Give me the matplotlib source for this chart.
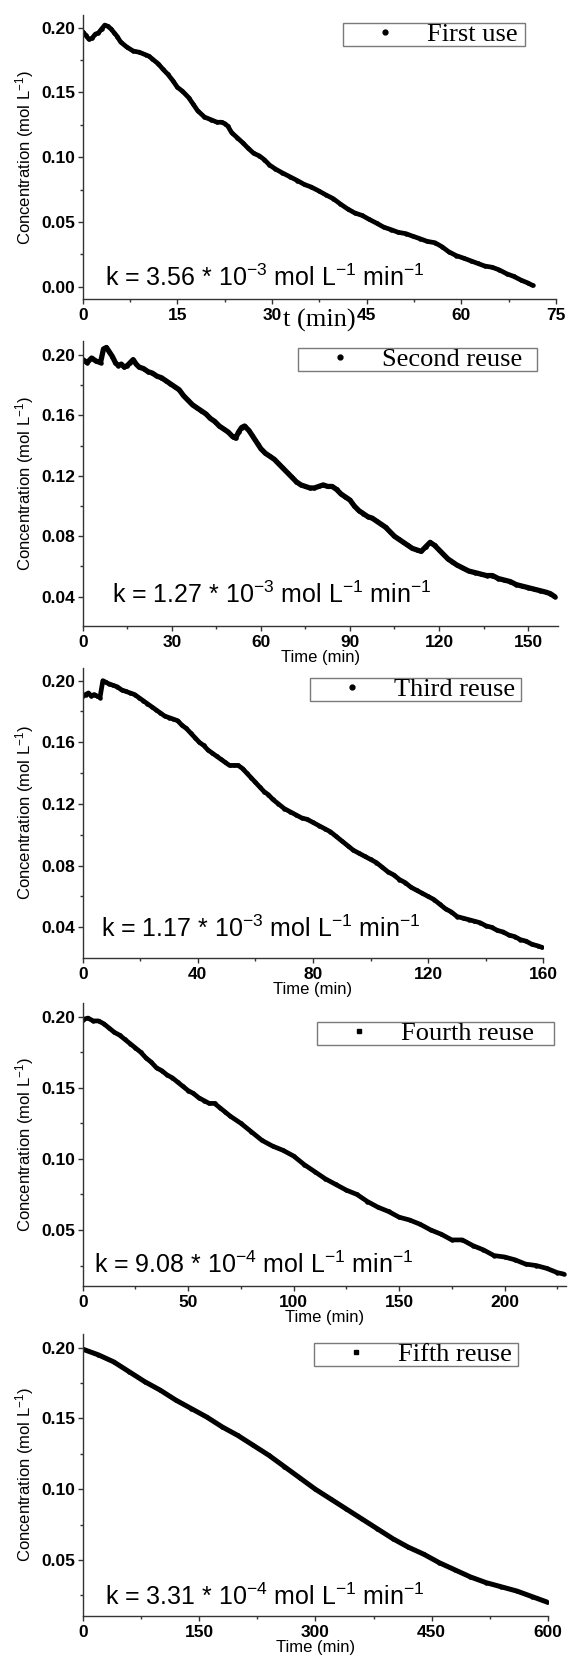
import matplotlib
matplotlib.use("Agg")
import matplotlib.pyplot as plt
from matplotlib.lines import Line2D
from matplotlib.ticker import MultipleLocator, FormatStrFormatter

plt.rcParams["font.family"] = ["Liberation Sans", "DejaVu Sans"]
plt.rcParams["font.weight"] = "bold"
plt.rcParams["mathtext.fontset"] = "custom"
plt.rcParams["mathtext.rm"] = "Liberation Sans:weight=normal"
plt.rcParams["mathtext.default"] = "rm"

# ---- datos ----
t1 = [0, 0.5, 1, 1.5, 2, 2.5, 3, 3.5, 4, 4.5, 5, 5.5, 6, 7, 8, 9, 10, 10.5, 11, 12,
      12.7, 13.5, 14.3, 15, 15.8, 16.8, 17.5, 18.2, 19.3, 20.3, 21.3, 22, 22.5, 23,
      23.6, 24.5, 25.4, 26.2, 27.1, 28, 28.8, 29.6, 30.5, 31.6, 32.8, 34, 35.1, 36.2,
      37.4, 38.5, 39.7, 40.8, 42, 43.1, 44.3, 45.4, 46.6, 47.7, 48.9, 50, 51.2, 52.3,
      53.5, 54.6, 55.8, 56.9, 58, 59.2, 60.4, 61.5, 62.6, 63.7, 64.9, 66, 67.2, 68.3,
      69.5, 70.5, 71.3]
c1 = [0.197, 0.194, 0.191, 0.192, 0.195, 0.196, 0.199, 0.202, 0.201, 0.199, 0.196,
      0.193, 0.189, 0.185, 0.182, 0.181, 0.179, 0.178, 0.176, 0.172, 0.168, 0.164,
      0.159, 0.154, 0.151, 0.146, 0.141, 0.136, 0.131, 0.129, 0.127, 0.127, 0.126,
      0.124, 0.119, 0.115, 0.111, 0.107, 0.103, 0.101, 0.098, 0.094, 0.091, 0.088,
      0.085, 0.082, 0.079, 0.077, 0.074, 0.071, 0.068, 0.064, 0.060, 0.057, 0.055,
      0.052, 0.049, 0.046, 0.044, 0.042, 0.041, 0.039, 0.037, 0.035, 0.034, 0.031,
      0.027, 0.024, 0.022, 0.020, 0.018, 0.016, 0.015, 0.013, 0.010, 0.008, 0.005,
      0.003, 0.001]

t2 = [0, 1.5, 3, 4.5, 6, 7, 8, 9, 10, 11, 12, 13, 14, 15, 16, 17, 18, 19, 20.5, 22,
      23.5, 25, 26.5, 28, 29.5, 31, 32.5, 34, 35.5, 37, 38.5, 40, 41.5, 43, 44.5, 46,
      47.5, 49, 50.5, 51.5, 52.5, 53.5, 54.5, 56, 57, 58, 59, 60, 61.5, 63, 64.5, 66,
      67.5, 69, 70.5, 72, 73.5, 75, 76.5, 78, 79.5, 81, 82.5, 84, 85.5, 87, 88.5, 90,
      91.5, 93, 94.5, 96, 97.5, 99, 100.5, 102, 103.5, 105, 106.5, 108, 109.5, 111,
      112.5, 114, 115.5, 117, 118.5, 120, 121.5, 123, 124.5, 126, 128, 130, 132, 134,
      136, 138, 140, 142, 144, 146, 148, 150, 152, 154, 156, 157.5, 159]
c2 = [0.197, 0.195, 0.198, 0.196, 0.195, 0.204, 0.205, 0.202, 0.199, 0.195, 0.193,
      0.194, 0.192, 0.193, 0.195, 0.197, 0.194, 0.192, 0.191, 0.189, 0.188, 0.186,
      0.185, 0.183, 0.181, 0.179, 0.177, 0.173, 0.170, 0.167, 0.165, 0.163, 0.161,
      0.158, 0.156, 0.153, 0.151, 0.149, 0.146, 0.145, 0.149, 0.152, 0.153, 0.150,
      0.147, 0.144, 0.141, 0.138, 0.135, 0.133, 0.131, 0.128, 0.125, 0.122, 0.119,
      0.116, 0.114, 0.113, 0.112, 0.112, 0.113, 0.114, 0.113, 0.113, 0.111, 0.108,
      0.106, 0.104, 0.100, 0.097, 0.095, 0.093, 0.092, 0.090, 0.088, 0.086, 0.083,
      0.080, 0.078, 0.076, 0.074, 0.072, 0.071, 0.070, 0.073, 0.076, 0.074, 0.071,
      0.068, 0.065, 0.063, 0.061, 0.059, 0.057, 0.056, 0.055, 0.054, 0.054, 0.052,
      0.051, 0.050, 0.048, 0.047, 0.046, 0.045, 0.044, 0.043, 0.042, 0.040]

t3 = [0, 1, 2, 3, 4, 5, 6, 7, 8, 9, 10.5, 12, 13.5, 15, 16.5, 18, 19.5, 21, 22.5, 24,
      25.5, 27, 28.5, 30, 31.5, 33, 34.5, 36, 37.5, 39, 40.5, 42, 43.5, 45, 46.5, 48,
      49.5, 51, 52.5, 54, 55.5, 57, 58.5, 60, 61.5, 63, 64.5, 66, 68, 70, 72, 74, 76,
      78, 80, 82, 84, 86, 88, 90, 92, 94, 96, 98, 100, 102, 104, 106, 108, 110, 112,
      114, 116, 118, 120, 122, 124, 126, 128, 130, 132, 134, 136, 138, 140, 142, 144,
      146, 148, 150, 152, 154, 156, 158, 159.5]
c3 = [0.190, 0.191, 0.192, 0.190, 0.191, 0.190, 0.189, 0.200, 0.199, 0.198, 0.197,
      0.196, 0.194, 0.193, 0.192, 0.191, 0.189, 0.187, 0.185, 0.183, 0.181, 0.179,
      0.177, 0.176, 0.175, 0.174, 0.171, 0.169, 0.166, 0.163, 0.160, 0.158, 0.155,
      0.153, 0.151, 0.149, 0.147, 0.145, 0.145, 0.145, 0.143, 0.140, 0.137, 0.134,
      0.131, 0.128, 0.126, 0.123, 0.120, 0.117, 0.115, 0.113, 0.111, 0.110, 0.108,
      0.106, 0.104, 0.102, 0.099, 0.096, 0.093, 0.090, 0.088, 0.086, 0.084, 0.082,
      0.079, 0.076, 0.074, 0.071, 0.069, 0.066, 0.064, 0.062, 0.060, 0.058, 0.055,
      0.052, 0.050, 0.047, 0.046, 0.045, 0.044, 0.043, 0.041, 0.040, 0.038, 0.037,
      0.035, 0.034, 0.032, 0.031, 0.029, 0.028, 0.027]

t4 = [0, 2.5, 5, 7.5, 10, 12.5, 15, 17.5, 20, 22.5, 25, 27.5, 30, 32.5, 35, 37.5, 40,
      42.5, 45, 47.5, 50, 52.5, 55, 57.5, 60, 62.5, 65, 67.5, 70, 75, 80, 85, 90, 95,
      100, 105, 110, 115, 120, 125, 130, 135, 140, 145, 150, 155, 160, 165, 170, 175,
      180, 185, 190, 195, 200, 205, 210, 215, 220, 225, 228]
c4 = [0.198, 0.199, 0.197, 0.197, 0.195, 0.192, 0.189, 0.187, 0.184, 0.181, 0.178,
      0.175, 0.171, 0.168, 0.164, 0.162, 0.159, 0.157, 0.154, 0.151, 0.148, 0.146,
      0.143, 0.141, 0.139, 0.139, 0.136, 0.133, 0.130, 0.125, 0.119, 0.113, 0.109,
      0.106, 0.102, 0.096, 0.091, 0.086, 0.082, 0.078, 0.075, 0.070, 0.066, 0.063,
      0.059, 0.057, 0.054, 0.050, 0.047, 0.043, 0.043, 0.039, 0.036, 0.032, 0.031,
      0.029, 0.026, 0.025, 0.023, 0.020, 0.019]

t5 = [0, 20, 40, 60, 80, 100, 120, 140, 160, 180, 200, 220, 240, 260, 280, 300, 320,
      340, 360, 380, 400, 420, 440, 460, 480, 500, 520, 540, 560, 580, 600]
c5 = [0.199, 0.195, 0.190, 0.183, 0.176, 0.170, 0.163, 0.157, 0.151, 0.144, 0.138,
      0.131, 0.124, 0.116, 0.108, 0.100, 0.093, 0.086, 0.079, 0.072, 0.065, 0.059,
      0.054, 0.048, 0.043, 0.038, 0.034, 0.031, 0.028, 0.024, 0.020]

nombres = ["First use", "Second reuse", "Third reuse", "Fourth reuse", "Fifth reuse"]
textos_k = [r"k = 3.56 * 10$^{-3}$ mol L$^{-1}$ min$^{-1}$",
            r"k = 1.27 * 10$^{-3}$ mol L$^{-1}$ min$^{-1}$",
            r"k = 1.17 * 10$^{-3}$ mol L$^{-1}$ min$^{-1}$",
            r"k = 9.08 * 10$^{-4}$ mol L$^{-1}$ min$^{-1}$",
            r"k = 3.31 * 10$^{-4}$ mol L$^{-1}$ min$^{-1}$"]

# ---- layout (pixeles de la imagen) ----
W, H = 568, 1657
ejes_px = [(82.7, 556.0, 15.0, 299.3), (82.7, 557.8, 340.7, 626.0),
           (82.7, 543.4, 668.3, 957.7), (82.7, 565.7, 1003.3, 1286.0),
           (82.7, 548.0, 1334.0, 1616.0)]
xlims = [(0, 75), (0, 160), (0, 160), (0, 229), (0, 600)]
ylims = [(-0.0097, 0.2098), (0.0206, 0.2095), (0.0203, 0.208), (0.0106, 0.2094), (0.0104, 0.2097)]
xpasos = [(15, 7.5), (30, 15), (40, 20), (50, 25), (150, 75)]
ypasos = [(0.05, 0.025), (0.04, 0.02), (0.04, 0.02), (0.05, 0.025), (0.05, 0.025)]
leyenda_px = [(343, 22.7, 524.5, 51), (298, 348, 537, 376), (310, 678, 521, 707),
              (317, 1022, 554, 1050), (314, 1343, 518, 1371)]
marcas = ["o", "o", "o", "s", "s"]
grosor = [3.4, 3.8, 3.4, 3.4, 3.6]
k_px = [(105, 286), (112.5, 603), (101, 937), (94, 1273), (105, 1605)]
datos = [(t1, c1), (t2, c2), (t3, c3), (t4, c4), (t5, c5)]

fig = plt.figure(figsize=(W / 100, H / 100), dpi=100)

for i in range(5):
    L, R, T, B = ejes_px[i]
    ax = fig.add_axes([L / W, 1 - B / H, (R - L) / W, (B - T) / H])
    wpx, hpx = R - L, B - T

    t, c = datos[i]
    ax.plot(t, c, color="black", lw=grosor[i], marker="o", ms=3.2, mew=0,
            solid_capstyle="round", solid_joinstyle="round")

    ax.set_xlim(*xlims[i])
    ax.set_ylim(*ylims[i])
    ax.xaxis.set_major_locator(MultipleLocator(xpasos[i][0]))
    ax.xaxis.set_minor_locator(MultipleLocator(xpasos[i][1]))
    ax.yaxis.set_major_locator(MultipleLocator(ypasos[i][0]))
    ax.yaxis.set_minor_locator(MultipleLocator(ypasos[i][1]))
    ax.xaxis.set_major_formatter(FormatStrFormatter("%d"))
    ax.yaxis.set_major_formatter(FormatStrFormatter("%.2f"))

    for s in ["top", "right"]:
        ax.spines[s].set_visible(False)
    for s in ["left", "bottom"]:
        ax.spines[s].set_color("#333333")
        ax.spines[s].set_linewidth(1.0)
    ax.tick_params(which="major", direction="out", length=3.6, width=1.0,
                   color="#333333", labelsize=12.5)
    ax.tick_params(which="minor", direction="out", length=2.2, width=1.0,
                   color="#333333")
    ax.tick_params(axis="y", pad=1.5)
    ax.tick_params(axis="x", pad=3)

    ax.set_ylabel(r"Concentration (mol L$^{-1}$)", fontsize=12, fontweight="normal")
    ax.yaxis.label.set_va("center")
    ax.yaxis.set_label_coords((25 - L) / wpx, 0.5)

    if i == 0:
        ax.set_xlabel("t (min)", fontsize=19, fontweight="normal",
                      family="Liberation Serif")
        ax.xaxis.label.set_va("center")
        ax.xaxis.set_label_coords(0.5, -21 / hpx)
    else:
        ax.set_xlabel("Time (min)", fontsize=12, fontweight="normal")
        ax.xaxis.label.set_va("center")
        ax.xaxis.set_label_coords(0.5, -31.5 / hpx)

    kx, ky = k_px[i]
    ax.text((kx - L) / wpx, (B - ky) / hpx, textos_k[i], transform=ax.transAxes,
            fontsize=18, fontweight="normal", ha="left", va="baseline")

    lx0, ly0, lx1, ly1 = leyenda_px[i]
    bx = (lx0 - L) / wpx
    bw = (lx1 - lx0) / wpx
    btop = (B - ly0) / hpx
    bh = (ly1 - ly0) / hpx
    h = Line2D([], [], ls="none", marker=marcas[i], ms=3.5, color="black")
    leg = ax.legend([h], [nombres[i]], loc="upper left",
                    bbox_to_anchor=(bx, btop - bh, bw, bh), mode="expand",
                    borderaxespad=0, borderpad=0.0, handlelength=3.2,
                    handletextpad=0.0, fancybox=False, framealpha=1,
                    prop={"family": "Liberation Serif", "size": 19, "weight": "normal"})
    leg.get_frame().set_edgecolor("#7a7a7a")
    leg.get_frame().set_linewidth(1.0)

fig.savefig("out.png", dpi=100)
